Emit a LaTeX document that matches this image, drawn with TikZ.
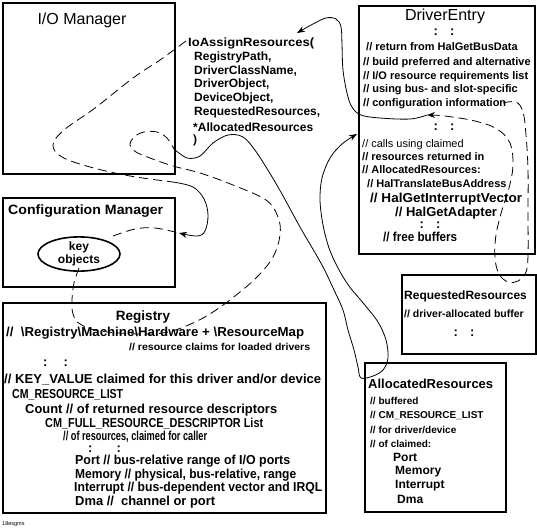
\documentclass[tikz,border=0pt]{standalone}
\usepackage{fontspec}
\setmainfont{Liberation Sans}
\usetikzlibrary{arrows.meta,shapes.geometric}
\newcommand\wfit[2]{\resizebox{#1pt}{\height}{#2}}
\tikzset{
  box/.style={draw, line width=2.3pt, anchor=north west, inner sep=0pt},
  txt/.style={anchor=mid west, inner sep=0pt},
  ctr/.style={anchor=mid, inner sep=0pt},
  bb/.style={font=\bfseries\fontsize{12}{14}\selectfont},
  bs/.style={font=\bfseries\fontsize{11}{13}\selectfont},
  bt/.style={font=\bfseries\fontsize{13}{15}\selectfont},
  bm/.style={font=\bfseries\fontsize{10}{12}\selectfont},
  curve/.style={line width=0.8pt},
  dsh/.style={line width=0.8pt, dash pattern=on 9pt off 5pt},
  tip/.style={-{Stealth[length=8pt,width=6pt]}}
}
\begin{document}
\begin{tikzpicture}[x=1pt,y=-1pt]
\useasboundingbox[fill=white] (0,0) rectangle (537,531);
% boxes
\node[box, minimum width=172pt, minimum height=171pt] (io) at (2,2) {};
\node[box, minimum width=172pt, minimum height=89pt] (cm) at (2,197) {};
\node[box, minimum width=323pt, minimum height=210pt] (reg) at (2,302) {};
\node[box, minimum width=176pt, minimum height=248pt] (de) at (358,5) {};
\node[box, minimum width=134pt, minimum height=79pt] (rr) at (401,274) {};
\node[box, minimum width=141pt, minimum height=149pt] (ar) at (364,362) {};
\node[draw, ellipse, line width=1.6pt, minimum width=82pt, minimum height=29pt, inner sep=0pt, align=center, font=\bfseries\fontsize{12}{13}\selectfont] (key) at (79,254) {key\\objects};

% I/O manager
\node[ctr, font=\fontsize{16}{18}\selectfont] (iot) at (82,22) {I/O Manager};
\node[txt,bb] (ia) at (188,44) {\wfit{126}{IoAssignResources(}};
\node[txt,bb] (i1) at (194,58) {RegistryPath,};
\node[txt,bb] (i2) at (194,72) {DriverClassName,};
\node[txt,bb] (i3) at (194,85) {DriverObject,};
\node[txt,bb] (i4) at (194,99) {DeviceObject,};
\node[txt,bb] (i5) at (194,113) {RequestedResources,};
\node[txt,bb] (i6) at (193,129) {*AllocatedResources};
\node[txt,bb] (i7) at (193,141) {)};

% Config manager
\node[txt, font=\bfseries\fontsize{13.5}{15}\selectfont] (cmt) at (8,212) {\wfit{155}{Configuration Manager}};

% Registry
\node[ctr, font=\bfseries\fontsize{13.5}{15}\selectfont] (regt) at (143,318) {Registry};
\node[txt,bt] (r1) at (6,334) {\wfit{298}{//\ \ \textbackslash Registry\textbackslash Machine\textbackslash Hardware + \textbackslash ResourceMap}};
\node[txt,bm] (r2) at (129,348) {\wfit{181}{// resource claims for loaded drivers}};
\node[txt,bt] (r3) at (43,364) {:\hspace{16pt}:};
\node[txt,bt] (r4) at (4,381) {\wfit{317}{// KEY\_VALUE claimed for this driver and/or device}};
\node[txt,bt] (r5) at (12,396) {\wfit{111}{CM\_RESOURCE\_LIST}};
\node[txt,bt] (r6) at (25,411) {\wfit{252}{Count // of returned resource descriptors}};
\node[txt,bt] (r7) at (45,425) {\wfit{218}{CM\_FULL\_RESOURCE\_DESCRIPTOR List}};
\node[txt,bt] (r8) at (63,438) {\wfit{144}{// of resources, claimed for caller}};
\node[txt,bt] (r9) at (88,450) {:\hspace{24pt}:};
\node[txt,bt] (r10) at (75,462) {\wfit{215}{Port // bus-relative range of I/O ports}};
\node[txt,bt] (r11) at (75,476) {\wfit{221}{Memory // physical, bus-relative, range}};
\node[txt,bt] (r12) at (74,489) {\wfit{248}{Interrupt // bus-dependent vector and IRQL}};
\node[txt,bt] (r13) at (75,503) {\wfit{140}{Dma //\ \ channel or port}};
\node[anchor=mid west, inner sep=0pt, font=\fontsize{5.5}{6}\selectfont] (fig) at (2,523) {18esgms};

% DriverEntry
\node[ctr, font=\fontsize{16}{18}\selectfont] (det) at (445,18) {DriverEntry};
\node[ctr,bt] (d0) at (444,33) {:\hspace{12pt}:};
\node[txt,bs] (d1) at (366,48) {// return from HalGetBusData};
\node[txt,bs] (d2) at (363,63) {// build preferred and alternative};
\node[txt,bs] (d3) at (363,77) {// I/O resource requirements list};
\node[txt,bs] (d4) at (363,90) {// using bus- and slot-specific};
\node[txt,bs] (d5) at (363,104) {// configuration information};
\node[ctr,bt] (d6) at (444,128) {:\hspace{12pt}:};
\node[txt, font=\fontsize{11}{13}\selectfont] (d7) at (362,145) {// calls using claimed};
\node[txt,bs] (d8) at (362,158) {// resources returned in};
\node[txt,bs] (d9) at (362,171) {// AllocatedResources:};
\node[txt,bs] (d10) at (367,185) {// HalTranslateBusAddress};
\node[txt,bt] (d11) at (370,200) {\wfit{152}{// HalGetInterruptVector}};
\node[txt,bt] (d12) at (395,214) {// HalGetAdapter};
\node[ctr,bt] (d13) at (430,226) {:\hspace{12pt}:};
\node[txt,bt] (d14) at (383,239) {\wfit{74}{// free buffers}};

% RequestedResources
\node[txt, font=\bfseries\fontsize{12}{14}\selectfont] (rrt) at (404,297) {RequestedResources};
\node[txt, font=\bfseries\fontsize{10.5}{12}\selectfont] (rr1) at (404,315) {// driver-allocated buffer};
\node[ctr,bt] (rr2) at (464,334) {:\hspace{12pt}:};

% AllocatedResources
\node[txt, font=\bfseries\fontsize{13}{15}\selectfont] (art) at (368,386) {AllocatedResources};
\node[txt, font=\bfseries\fontsize{10}{12}\selectfont] (a1) at (370,402) {// buffered};
\node[txt, font=\bfseries\fontsize{10}{12}\selectfont] (a2) at (370,416) {// CM\_RESOURCE\_LIST};
\node[txt, font=\bfseries\fontsize{10}{12}\selectfont] (a3) at (370,431) {// for driver/device};
\node[txt, font=\bfseries\fontsize{10}{12}\selectfont] (a4) at (370,445) {// of claimed:};
\node[txt,bb] (a5) at (393,459) {Port};
\node[txt,bb] (a6) at (395,472) {Memory};
\node[txt,bb] (a7) at (395,486) {Interrupt};
\node[txt,bb] (a8) at (397,501) {Dma};

% connector end points
\coordinate (p1s) at (186,41);
\coordinate (cmin) at (179,233);
\coordinate (keyo) at (113,236);
\coordinate (keyb) at (79,268);
\coordinate (infoe) at (503,103);
\coordinate (dein) at (427,115);
\coordinate (iain) at (297,33);
\coordinate (arc) at (361,378);
\coordinate (dearr) at (357,134);

% path 1: IoAssignResources -> I/O manager -> Configuration Manager
\draw[dsh] plot[smooth, tension=0.6] coordinates {(p1s) (160,60) (133,78) (95,108) (64,130) (53,145) (62,157) (90,167) (130,176) (173,182)};
\draw[curve, tip] plot[smooth, tension=0.6] coordinates {(173,182) (193,187) (204,199) (208,215) (205,231) (197,236) (cmin)};
% key objects -> Configuration Manager arrow
\draw[dsh] plot[smooth, tension=0.6] coordinates {(keyo) (135,229) (155,228) (cmin)};
% path 3: key objects -> Registry -> loop
\draw[dsh] plot[smooth, tension=0.6] coordinates {(keyb) (74,283) (72,300) (73,314) (80,324) (100,331) (140,334) (168,332) (193,323) (213,312) (235,296) (257,277) (273,257) (280,235) (278,217) (266,200) (233,185) (200,173) (173,166) (150,158) (136,152) (130,145) (134,137) (144,132) (157,132) (167,138) (174,149)};
% solid: IoAssignResources -> AllocatedResources -> DriverEntry
\draw[curve, tip] plot[smooth, tension=0.55] coordinates {(174,149) (187,158) (200,156) (213,143) (228,135) (243,137) (257,153) (278,187) (300,227) (322,265) (334,290) (343,310) (348,330) (354,350) (358,367) (arc) (373,376) (383,370) (388,358) (386,340) (378,322) (364,304) (349,286) (338,268) (329,248) (323,225) (320,200) (322,178) (330,158) (342,144) (dearr)};
% RequestedResources loop -> DriverEntry arrow
\draw[dsh, tip] plot[smooth, tension=0.6] coordinates {(infoe) (516,102) (523,112) (526,135) (528,170) (528,215) (528,255) (526,272) (518,281) (508,282) (499,274) (495,258) (496,235) (502,210) (509,188) (513,165) (510,143) (497,129) (475,121) (445,116) (dein)};
% DriverEntry -> IoAssignResources
\draw[curve, tip] plot[smooth, tension=0.6] coordinates {(dein) (410,119) (380,118) (361,115) (352,107) (347,93) (343,70) (342,45) (341,27) (336,19) (326,18) (313,24) (iain)};
\end{tikzpicture}
\end{document}
